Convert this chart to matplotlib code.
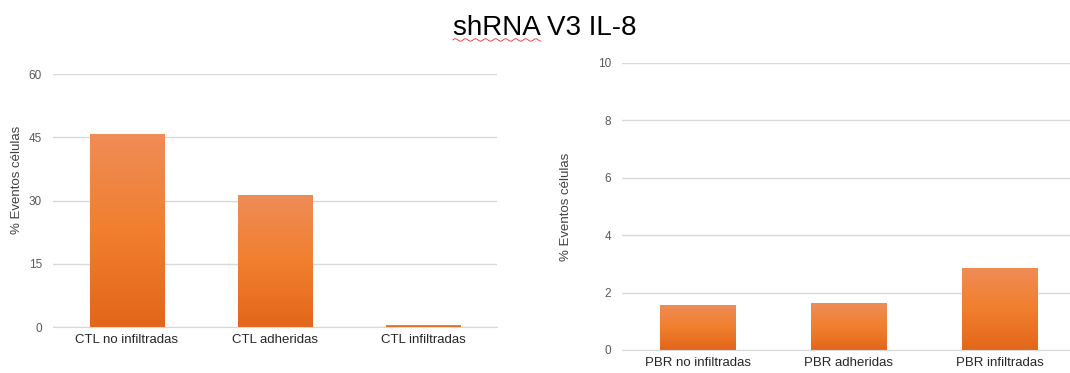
import numpy as np
import matplotlib
matplotlib.use("Agg")
import matplotlib.pyplot as plt
from matplotlib.colors import LinearSegmentedColormap

plt.rcParams['font.family'] = ['Liberation Sans', 'DejaVu Sans']

# data
ctl_labels = ["CTL no infiltradas", "CTL adheridas", "CTL infiltradas"]
ctl_values = [45.8, 31.3, 0.5]
pbr_labels = ["PBR no infiltradas", "PBR adheridas", "PBR infiltradas"]
pbr_values = [1.57, 1.63, 2.86]
ctl_ticks = [0, 15, 30, 45, 60]
pbr_ticks = [0, 2, 4, 6, 8, 10]

grid_col = "#D9D9D9"
tick_col = "#595959"
# light at top, darker at the base
bar_cmap = LinearSegmentedColormap.from_list(
    "bar", ["#E3661A", "#F17F2E", "#EF8C57"])

fig = plt.figure(figsize=(10.7, 3.73), dpi=100)
ax1 = fig.add_axes([0.0495, 0.1233, 0.415, 0.678])
ax2 = fig.add_axes([0.5813, 0.0617, 0.4243, 0.7694])


def draw_panel(ax, labels, values, ticks):
    x = np.arange(len(labels))
    bars = ax.bar(x, values, width=0.5, color="none", zorder=3)
    grad = np.linspace(0, 1, 256).reshape(-1, 1)
    for b in bars:
        x0, y0 = b.get_x(), b.get_y()
        w, h = b.get_width(), b.get_height()
        im = ax.imshow(grad, cmap=bar_cmap, origin="lower", aspect="auto",
                       extent=[x0, x0 + w, y0, y0 + h], zorder=3)
        im.set_clip_path(b)
    ax.set_xlim(-0.5, len(labels) - 0.5)
    ax.set_ylim(ticks[0], ticks[-1])
    ax.set_yticks(ticks)
    ax.set_xticks(x)
    ax.set_xticklabels(labels, fontsize=9.5, color="#262626")
    ax.tick_params(axis="y", labelsize=8.5, colors=tick_col, length=0, pad=8)
    ax.tick_params(axis="x", length=0, pad=5)
    ax.yaxis.grid(True, color=grid_col, lw=1, zorder=0)
    ax.set_axisbelow(True)
    for s in ["top", "right", "left"]:
        ax.spines[s].set_visible(False)
    ax.spines["bottom"].set_color(grid_col)
    ax.spines["bottom"].set_zorder(4)
    ax.set_ylabel("% Eventos células", fontsize=9.5, color="#404040")


draw_panel(ax1, ctl_labels, ctl_values, ctl_ticks)
draw_panel(ax2, pbr_labels, pbr_values, pbr_ticks)
ax1.yaxis.set_label_coords(-0.067, 0.58)
ax2.yaxis.set_label_coords(-0.11, 0.5)

title = fig.text(0.509, 0.925, "shRNA V3 IL-8", fontsize=20, ha="center",
                 va="center", color="black")

# red wavy underline beneath "shRNA"
fig.canvas.draw()
r = fig.canvas.get_renderer()
bb = title.get_window_extent(r)
tmp = fig.text(0, 0, "shRNA", fontsize=20)
wbb = tmp.get_window_extent(r)
tmp.remove()
xs = np.linspace(bb.x0, bb.x0 + wbb.width, 120)
ys = bb.y0 + 1 + 1.2 * np.sin((xs - bb.x0) / 1.6)
fig.lines.append(plt.Line2D(xs / fig.bbox.width, ys / fig.bbox.height,
                            transform=fig.transFigure, color="#E03030", lw=0.6))

fig.savefig("out.png", dpi=100)
